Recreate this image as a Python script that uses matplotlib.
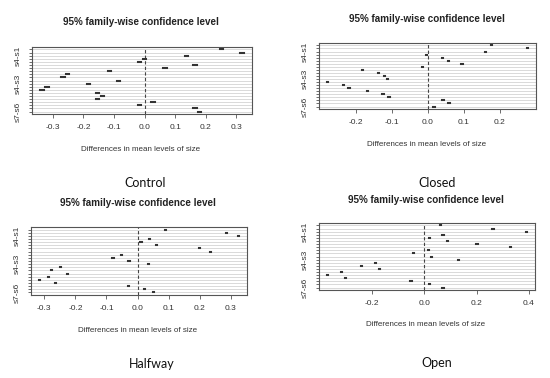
import matplotlib
matplotlib.use("Agg")
import matplotlib.pyplot as plt
import numpy as np

plt.rcParams['axes.unicode_minus'] = False

comparisons = ["s2-s1", "s3-s1", "s4-s1", "s5-s1", "s6-s1", "s7-s1",
               "s3-s2", "s4-s2", "s5-s2", "s6-s2", "s7-s2",
               "s4-s3", "s5-s3", "s6-s3", "s7-s3",
               "s5-s4", "s6-s4", "s7-s4",
               "s6-s5", "s7-s5", "s7-s6"]
shown_labels = ["s4-s1", "s4-s3", "s7-s6"]

control_diff = [0.251, 0.319, 0.137, 0.000, -0.016, 0.165, 0.067, -0.114, -0.252, -0.267,
                -0.086, -0.183, -0.319, -0.336, -0.154, -0.137, -0.154, 0.028, -0.016, 0.165, 0.180]
closed_diff = [0.177, 0.276, 0.161, -0.003, 0.041, 0.057, 0.095, -0.015, -0.181, -0.137,
               -0.120, -0.111, -0.277, -0.234, -0.218, -0.167, -0.124, -0.107, 0.042, 0.059, 0.017]
halfway_diff = [0.089, 0.286, 0.324, 0.039, 0.011, 0.061, 0.200, 0.235, -0.051, -0.079,
                -0.028, 0.035, -0.248, -0.277, -0.226, -0.286, -0.315, -0.263, -0.029, 0.021, 0.051]
open_diff = [0.063, 0.263, 0.390, 0.072, 0.019, 0.088, 0.202, 0.330, 0.015, -0.040,
             0.029, 0.131, -0.186, -0.241, -0.172, -0.315, -0.369, -0.300, -0.051, 0.019, 0.072]

ci_halfwidth = {"Control": 0.0055, "Closed": 0.002, "Halfway": 0.002, "Open": 0.0025}

control_ticks = [-0.3, -0.2, -0.1, 0.0, 0.1, 0.2, 0.3]
closed_ticks = [-0.2, -0.1, 0.0, 0.1, 0.2]
halfway_ticks = [-0.3, -0.2, -0.1, 0.0, 0.1, 0.2, 0.3]
open_ticks = [-0.2, 0.0, 0.2, 0.4]

W, H = 550, 378
fig = plt.figure(figsize=(W / 100, H / 100), dpi=100)

def px_axes(l, t, r, b):
    return fig.add_axes([l / W, 1 - b / H, (r - l) / W, (b - t) / H])

def ftext(x, y, s, **kw):
    fig.text(x / W, 1 - y / H, s, ha='center', va='center', **kw)

panels = [
    ("Control", control_diff, control_ticks, (32, 47, 252, 114), 22, 129.5, 150, (145, 183)),
    ("Closed", closed_diff, closed_ticks, (319, 43, 536, 109), 19, 124, 144.5, (437, 183)),
    ("Halfway", halfway_diff, halfway_ticks, (31, 227, 247, 295), 203, 309.5, 330, (152, 364)),
    ("Open", open_diff, open_ticks, (319, 223, 535, 290), 200, 305, 325, (437, 363)),
]

n = len(comparisons)
yvals = np.arange(n, 0, -1)
frame_col = '#555555'
text_col = '#333333'

for name, diff, ticks, box, ty, tky, xly, plab in panels:
    ax = px_axes(*box)
    d = np.array(diff)
    hw = ci_halfwidth[name]
    lwr, upr = d - hw, d + hw
    lo, hi = lwr.min(), upr.max()
    pad = 0.04 * (hi - lo)
    ax.set_xlim(lo - pad, hi + pad)
    ax.set_ylim(1 - 0.04 * (n - 1), n + 0.04 * (n - 1))
    for yv in yvals:
        ax.axhline(yv, color='#d3d3d3', lw=0.6, zorder=1)
    ax.axvline(0, color='#444444', lw=0.8, ls=(0, (3, 2)), zorder=2)
    ax.hlines(yvals, lwr, upr, color='#333333', lw=1.5, zorder=3, capstyle='projecting')
    ax.set_yticks(yvals)
    ax.set_yticklabels([c if c in shown_labels else "" for c in comparisons],
                       rotation=90, va='center', fontsize=6, family='Liberation Sans', color=text_col)
    ax.set_xticks(ticks)
    ax.set_xticklabels(["%.1f" % t for t in ticks], fontsize=6, family='Liberation Sans', color=text_col)
    ax.tick_params(axis='both', direction='out', length=3, width=0.6, color=frame_col, pad=4.5)
    ax.tick_params(axis='y', length=2.5, pad=5)
    for sp in ax.spines.values():
        sp.set_color(frame_col)
        sp.set_linewidth(0.8)
    cx = (box[0] + box[2]) / 2
    ftext(cx - 1, ty, "95% family-wise confidence level", fontsize=7.1, fontweight='bold',
          family='Liberation Sans', color='#222222')
    ftext(cx - 1, xly, "Differences in mean levels of size", fontsize=5.8,
          family='Liberation Sans', color=text_col)
    ftext(plab[0], plab[1], name, fontsize=9, family='Lato', color='#111111')

fig.savefig("out.png", dpi=100)
